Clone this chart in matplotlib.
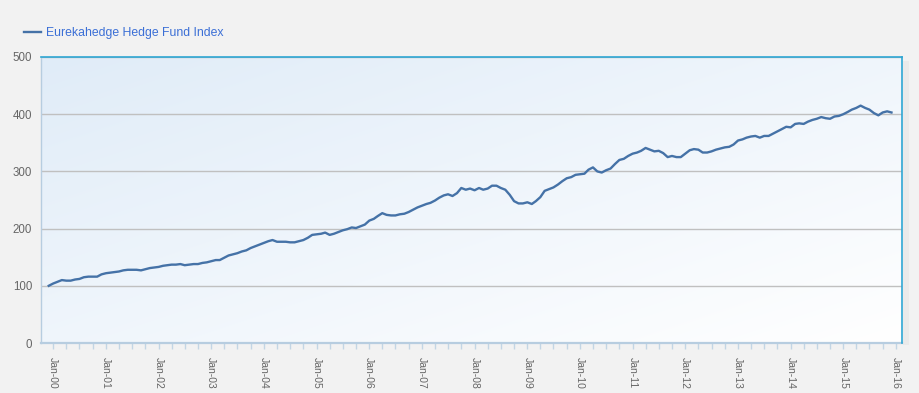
import numpy as np
import pandas as pd
import matplotlib
matplotlib.use('Agg')
import matplotlib.pyplot as plt
import matplotlib.dates as mdates
from matplotlib.patches import Rectangle

plt.rcParams['font.family'] = ['Liberation Sans', 'DejaVu Sans']

series_name = 'Eurekahedge Hedge Fund Index'
first_month = '1999-12-01'

# monthly index level (Dec-99 = 100)
index_values = [
    100,
    104, 107, 110, 109, 109, 111, 112, 115, 116, 116, 116, 120,  # 2000
    122, 123, 124, 125, 127, 128, 128, 128, 127, 129, 131, 132,  # 2001
    133, 135, 136, 137, 137, 138, 136, 137, 138, 138, 140, 141,  # 2002
    143, 145, 145, 149, 153, 155, 157, 160, 162, 166, 169, 172,  # 2003
    175, 178, 180, 177, 177, 177, 176, 176, 178, 180, 184, 189,  # 2004
    190, 191, 193, 189, 191, 194, 197, 199, 202, 201, 204, 207,  # 2005
    214, 217, 222, 227, 224, 223, 223, 225, 226, 229, 233, 237,  # 2006
    240, 243, 245, 249, 254, 258, 260, 257, 262, 271, 268, 270,  # 2007
    267, 271, 268, 270, 275, 275, 271, 268, 259, 248, 244, 244,  # 2008
    246, 243, 248, 255, 266, 269, 272, 277, 283, 288, 290, 294,  # 2009
    295, 296, 303, 307, 300, 298, 302, 305, 313, 320, 322, 327,  # 2010
    331, 333, 336, 341, 338, 335, 336, 332, 325, 327, 325, 325,  # 2011
    331, 337, 339, 338, 333, 333, 335, 338, 340, 342, 343, 347,  # 2012
    354, 356, 359, 361, 362, 359, 362, 362, 366, 370, 374, 378,  # 2013
    377, 383, 384, 383, 387, 390, 392, 395, 393, 392, 396, 397,  # 2014
    400, 404, 408, 411, 415, 411, 408, 402, 398, 403, 405, 403,  # 2015
]
months = pd.date_range(first_month, periods=len(index_values), freq='MS')

y_ticks = [0, 100, 200, 300, 400, 500]
tick_years = list(range(2000, 2017))

fig = plt.figure(figsize=(9.19, 3.93), dpi=100, facecolor='#f2f2f2')
W, H = 919, 393
left, right, top, bottom = 40.5, 902, 57, 343
ax = fig.add_axes([left / W, 1 - bottom / H, (right - left) / W, (bottom - top) / H])

# drop shadow at the right of the plot box
fig.patches.append(Rectangle(((right + 1) / W, 1 - (bottom + 2) / H), 6 / W, (bottom - top - 2) / H,
                             transform=fig.transFigure, facecolor='#eaeaea', edgecolor='none', zorder=-1))

ax.plot(months, index_values, color='#4572a7', lw=1.7, zorder=3, solid_joinstyle='round')

# soft blue-to-white background
n = 200
gx, gy = np.meshgrid(np.linspace(0, 1, n), np.linspace(0, 1, n))
t = (gx + gy) / 2
c0 = np.array([0xe0, 0xec, 0xf8]) / 255
c1 = np.array([1.0, 1.0, 1.0])
grad = c0[None, None, :] * (1 - t[..., None]) + c1[None, None, :] * t[..., None]
ax.imshow(grad, extent=[0, 1, 0, 1], transform=ax.transAxes, aspect='auto',
          origin='upper', interpolation='bilinear', zorder=0)

ax.set_xlim(pd.Timestamp('1999-10-05'), pd.Timestamp('2016-02-12'))
ax.set_ylim(0, 500)

ax.set_yticks(y_ticks)
ax.yaxis.grid(True, color='#c0c0c0', lw=1)
ax.set_axisbelow(True)
ax.tick_params(axis='y', length=0, pad=6, labelsize=8.3, labelcolor='#666666')

ax.set_xticks([pd.Timestamp(f'{y}-01-01') for y in tick_years])
ax.xaxis.set_major_formatter(mdates.DateFormatter('%b-%y'))
ax.xaxis.set_minor_locator(mdates.MonthLocator(bymonth=[4, 7, 10]))
ax.tick_params(axis='x', which='both', direction='out', length=4, width=1, color='#c3d5e4')
ax.tick_params(axis='x', which='major', labelsize=7.5, labelcolor='#666666',
               labelrotation=270, pad=6)

for side in ['top', 'right']:
    ax.spines[side].set_color('#2ea6d3')
    ax.spines[side].set_linewidth(1.2)
    ax.spines[side].set_zorder(4)
ax.spines['left'].set_color('#b7cde0')
ax.spines['left'].set_linewidth(1)
ax.spines['bottom'].set_color('#b7cde0')
ax.spines['bottom'].set_linewidth(1.6)

leg = ax.legend([series_name], loc='upper left', bbox_to_anchor=(24 / W, 1 - 27 / H),
                bbox_transform=fig.transFigure, frameon=False, handlelength=1.35,
                handletextpad=0.48, fontsize=8.8, borderaxespad=0, borderpad=0)
for txt in leg.get_texts():
    txt.set_color('#3b6fd6')

fig.savefig('out.png', dpi=100, facecolor=fig.get_facecolor())
